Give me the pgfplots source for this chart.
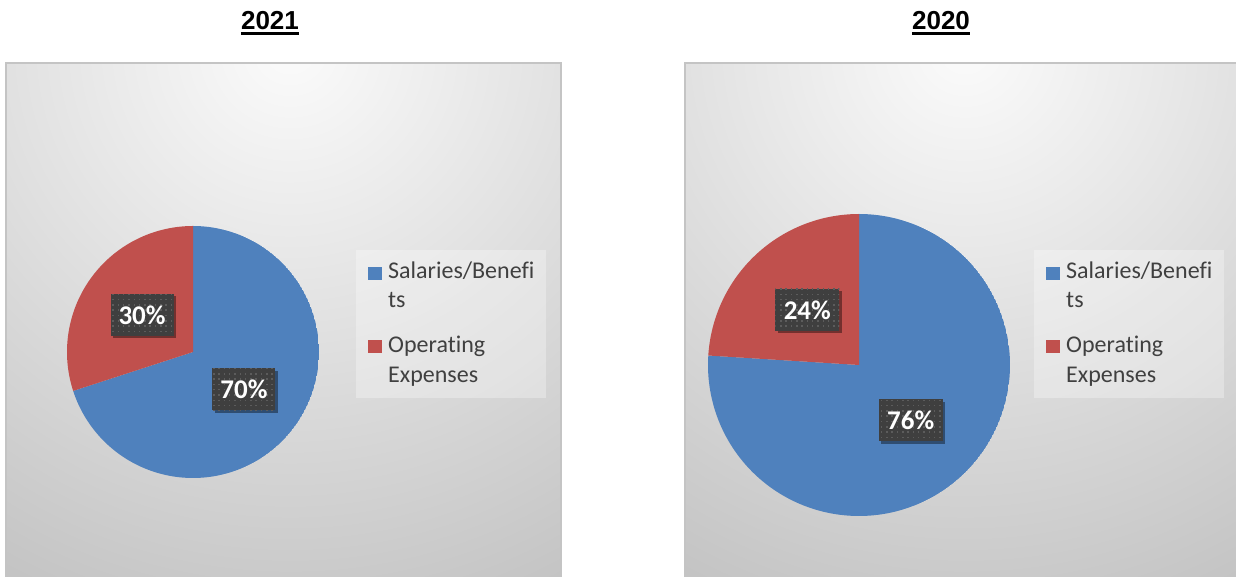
\documentclass[border=0pt]{standalone}
\usepackage{pgfplots}
\pgfplotsset{compat=1.18}
\usepackage{pgfplotstable}
\usepgfplotslibrary{polar}
\usetikzlibrary{patterns,shadows}
\usepackage{fontspec}
\setmainfont{Carlito}[Ligatures=CommonOff]
\newfontfamily\arialfont{Liberation Sans}
\definecolor{sal}{HTML}{4F81BD}
\definecolor{opx}{HTML}{C0504D}
\definecolor{lblbg}{HTML}{3F3F3F}
\definecolor{legtxt}{HTML}{404040}
\definecolor{panelin}{HTML}{FBFBFB}
\definecolor{panelout}{HTML}{C2C2C2}
\definecolor{panelborder}{HTML}{C4C4C4}
\pgfdeclareradialshading{panelshade}{\pgfpoint{0bp}{0bp}}{color(0bp)=(panelin); color(22bp)=(panelout); color(50bp)=(panelout)}
\pgfdeclarepatternformonly{lbldots}{\pgfqpoint{-1pt}{-1pt}}{\pgfqpoint{6pt}{6pt}}{\pgfqpoint{5.3pt}{5.3pt}}{\pgfpathrectangle{\pgfqpoint{1pt}{1pt}}{\pgfqpoint{1.5pt}{1.5pt}}\pgfusepath{fill}}

\pgfplotstableread{
year sal op
2021 70 30
2020 76 24
}\piedata

\newcommand\legfont{\fontsize{24}{28}\selectfont}
\tikzset{
  lblbox/.style={fill=lblbg, minimum width=63pt, minimum height=42pt, inner sep=0pt,
    text=white, font=\fontsize{27}{32}\selectfont\bfseries,
    drop shadow={shadow xshift=2.5pt, shadow yshift=-2.5pt, opacity=0.4, fill=black},
    postaction={pattern=lbldots, pattern color=white!15!lblbg}},
  legtext/.style={anchor=base west, inner sep=0pt, font=\legfont, text=legtxt},
  ttl/.style={anchor=base, inner sep=0pt, font=\arialfont\bfseries\fontsize{26}{30}\selectfont}
}

\begin{document}
\begin{tikzpicture}
\pgfplotstablegetelem{0}{sal}\of\piedata \let\salA\pgfplotsretval
\pgfplotstablegetelem{0}{op}\of\piedata \let\opA\pgfplotsretval
\pgfplotstablegetelem{1}{sal}\of\piedata \let\salB\pgfplotsretval
\pgfplotstablegetelem{1}{op}\of\piedata \let\opB\pgfplotsretval
\pgfmathsetmacro\sAstart{90-3.6*\salA}
\pgfmathsetmacro\oAend{90+3.6*\opA}
\pgfmathsetmacro\sAmid{90-1.8*\salA}
\pgfmathsetmacro\oAmid{90+1.8*\opA}
\pgfmathsetmacro\sBstart{90-3.6*\salB}
\pgfmathsetmacro\oBend{90+3.6*\opB}
\pgfmathsetmacro\sBmid{90-1.8*\salB}
\pgfmathsetmacro\oBmid{90+1.8*\opB}

\path[use as bounding box] (0pt,0pt) rectangle (1236pt,577pt);

% panels
\begin{scope}
\clip (6pt,-5pt) rectangle (561pt,514pt);
\shade[shading=panelshade] (290pt,530pt) circle (700pt);
\end{scope}
\draw[panelborder, line width=2pt] (6pt,-5pt) rectangle (561pt,514pt);
\begin{scope}
\clip (685pt,-5pt) rectangle (1245pt,514pt);
\shade[shading=panelshade] (965pt,530pt) circle (700pt);
\end{scope}
\draw[panelborder, line width=2pt] (685pt,-5pt) rectangle (1245pt,514pt);

% pie 2021
\begin{polaraxis}[at={(193pt,225pt)}, anchor=center, scale only axis,
  width=252pt, height=252pt, hide axis, ymin=0, ymax=1, xmin=0, xmax=360]
\addplot[draw=none, fill=sal, domain=\sAstart:90, samples=200] {1} -- (axis cs:0,0) -- cycle;
\addplot[draw=none, fill=opx, domain=90:\oAend, samples=120] {1} -- (axis cs:0,0) -- cycle;
\node[lblbox] at (axis cs:\oAmid,0.5) {\opA\%};
\node[lblbox] at (axis cs:\sAmid,0.5) {\salA\%};
\end{polaraxis}

% pie 2020
\begin{polaraxis}[at={(859pt,212pt)}, anchor=center, scale only axis,
  width=302pt, height=302pt, hide axis, ymin=0, ymax=1, xmin=0, xmax=360]
\addplot[draw=none, fill=sal, domain=\sBstart:90, samples=200] {1} -- (axis cs:0,0) -- cycle;
\addplot[draw=none, fill=opx, domain=90:\oBend, samples=120] {1} -- (axis cs:0,0) -- cycle;
\node[lblbox, minimum width=64pt] at (axis cs:\oBmid,0.5) {\opB\%};
\node[lblbox, minimum width=64pt] at (axis cs:\sBmid,0.5) {\salB\%};
\end{polaraxis}

% legends
\foreach \dx in {0,678}{
 \begin{scope}[xshift=\dx pt]
  \fill[white, opacity=0.3] (356pt,179pt) rectangle (546pt,327pt);
  \fill[sal] (368pt,297pt) rectangle (382pt,310pt);
  \node[legtext] at (388pt,298pt) {Salaries/Benefi};
  \node[legtext] at (388pt,269pt) {ts};
  \fill[opx] (368pt,224pt) rectangle (382pt,237pt);
  \node[legtext] at (388pt,224pt) {Operating};
  \node[legtext] at (388pt,194pt) {Expenses};
 \end{scope}
}

% titles
\node[ttl] (t1) at (270pt,547pt) {2021};
\draw[line width=2.3pt] ([yshift=-3.6pt]t1.base west) -- ([yshift=-3.6pt]t1.base east);
\node[ttl] (t2) at (941pt,547pt) {2020};
\draw[line width=2.3pt] ([yshift=-3.6pt]t2.base west) -- ([yshift=-3.6pt]t2.base east);
\end{tikzpicture}
\end{document}
